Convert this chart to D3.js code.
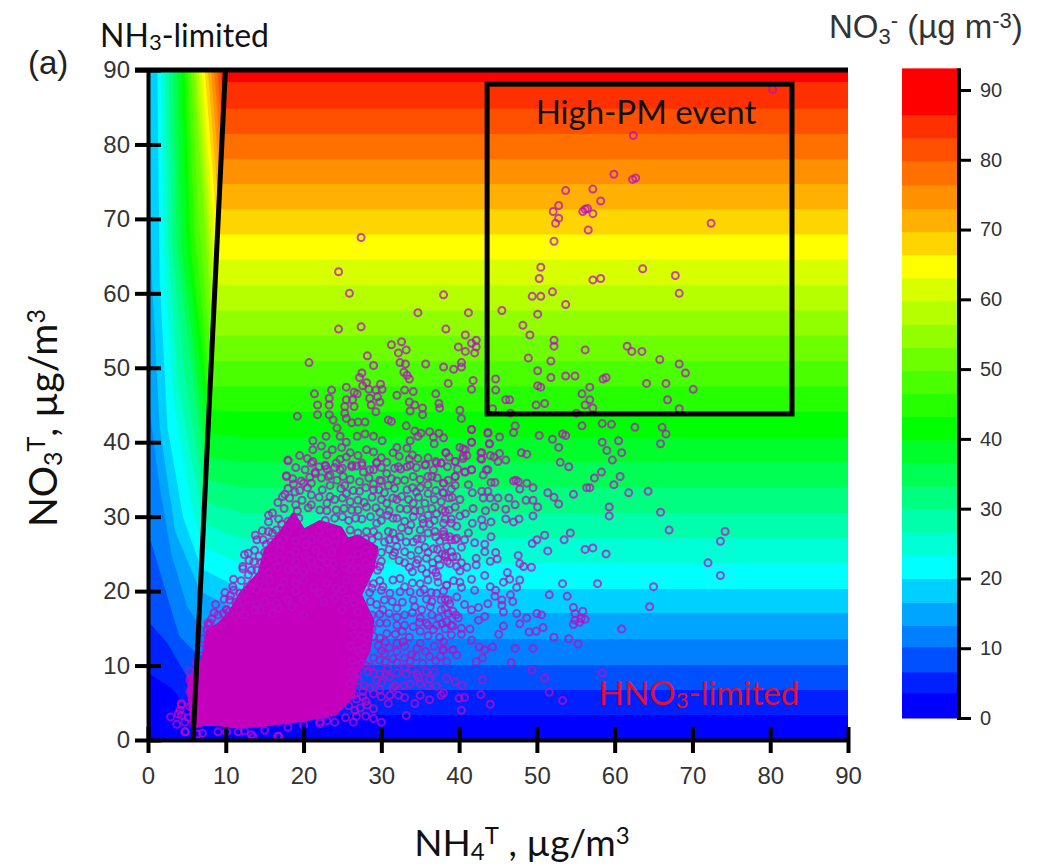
<!DOCTYPE html>
<html>
<head>
<meta charset="utf-8">
<script src="https://cdnjs.cloudflare.com/ajax/libs/d3/7.8.5/d3.min.js"></script>
<style>
	html, body { margin: 0; padding: 0; background: #fff; }
	svg { display: block; }
	.tick text { font-family: "Liberation Sans", sans-serif; fill: #333; }
</style>
</head>
<body>
<svg id="chart" width="1056" height="866"></svg>
<script>
// Band edges of the main plot and of the colour bar
const plotLevels = [3.36,6.72,10.08,13.58,17.05,20.3,23.7,27.1,30.5,33.9,37.3,40.7,44.1,47.5,50.9,54.3,57.7,61.1,64.5,67.9,71.3,74.7,78,81.4,84.8,88.4];
const barLevels = [3.6,6.6,10.2,13.3,16.6,20,23.3,26.6,29.9,33.2,36.5,39.8,43.2,46.5,49.8,53.1,56.4,59.8,63.1,66.4,69.7,73,76.4,79.8,83.1,86.4];
const bandColors = ["#0000ff","#0020ff","#0050ff","#0080ff","#00a5ff","#00d0ff","#00ffff","#00ffd5","#00ffaa","#00ff80","#00ff55","#00ff2a","#00ff00","#25ff00","#49ff00","#6dff00","#92ff00","#b6ff00","#d8ff00","#ffff00","#ffd500","#ffb000","#ff9000","#ff7000","#ff5000","#ff3000","#ff0000"];

// Contours of the NH3-limited wedge, one per band edge, ending on the black line
const wedgeContours = [
	[[0,9],[3,7],[5,4.5],[5.9,3.8]],
	[[0,16],[2.5,13],[5,8.5],[6.1,7.5]],
	[[0,28],[2,21],[4,14],[6.3,11.5]],
	[[0,46],[1.5,34],[3,25],[5,18],[6.5,15.5]],
	[[0,90],[0.5,62],[1.5,42],[3.5,28],[6.7,20]],
	[[1.2,90],[1.5,62],[2.5,42],[4.5,30],[6.86,23]],
	[[1.7,90],[2,66],[3.2,46],[5.5,32],[7,26]],
	[[2.2,90],[2.6,66],[3.8,48],[7.14,29]],
	[[2.7,90],[3.1,66],[4.6,50],[7.28,32]],
	[[3.2,90],[3.7,66],[7.41,35]],
	[[3.7,90],[4.3,66],[7.55,38]],
	[[4.2,90],[5,66],[7.7,41.2]],
	[[4.7,90],[5.5,66],[7.84,44.3]],
	[[5.1,90],[6,68],[8,47.5]],
	[[5.5,90],[6.5,70],[8.15,50.9]],
	[[5.9,90],[8.3,54.3]],
	[[6.2,90],[8.46,57.7]],
	[[6.5,90],[8.62,61.1]],
	[[6.9,90],[8.77,64.5]],
	[[7.3,90],[8.93,67.9]],
	[[7.7,90],[9.09,71.3]],
	[[8.1,90],[9.24,74.7]],
	[[8.5,90],[9.4,78]],
	[[8.9,90],[9.55,81.4]],
	[[9.3,90],[9.71,84.8]],
	[[9.6,90],[9.88,88.4]]
];

const limitLine = [[5.8,0],[9.95,90]];
const eventBox = {x0: 43.6, x1: 82.8, y0: 43.8, y1: 88.1};

// Outline of the part of the cloud where rings merge into solid colour
const denseCloud = [[5.8,1.8],[5.4,6],[5.4,8.2],[7.2,11],[7.7,14.5],[9.2,15.5],[10.7,17.2],[12,19.6],[14.4,22.4],[15.2,25.5],[17,27.6],[18.7,30.2],[20,28],[22.1,29.2],[24.7,28.4],[25.6,26.8],[27,27.3],[29.3,25.8],[28.8,23],[27.2,19.5],[28.8,16],[28.3,12],[26.8,9],[26.3,6],[24,3.6],[20,2.8],[14,2],[11,1.9],[9,2.2],[7,2.2]];

// [NH4T, NO3T] of the rings that can be told apart
const pointsEvent = [[80.3,87.4],[62.4,81.2],[59.9,76],[62.3,75.3],[62.7,75.5],[53.7,73.8],[57.2,74],[58.2,72.4],[52.8,71.8],[52.1,71],[52.8,70.1],[52.4,69.4],[55.9,71],[56.2,71.3],[56.5,71.4],[57.2,70.7],[56.6,68.5],[52.2,67],[72.4,69.4],[50.5,63.5],[50.3,62],[63.6,63.3],[67.8,62.4],[57.2,61.8],[58.2,62],[68.3,60],[52,60.2],[49.4,59.6],[50.5,59.6],[53.7,58.5],[45.5,57.7],[50.1,57.2],[48.2,55.7],[49.1,54.4],[52.2,53.7],[52.2,52.9],[61.6,52.9],[62.2,52.2],[63.5,52.2],[56.2,52.4],[48.9,51.3],[51.8,50.9],[65.8,51.1],[68.3,50.5],[69.1,49.3],[50.1,49.6],[51.8,48.7],[53.7,48.9],[54.9,48.9],[58.5,48.5],[58.9,48.7],[44.7,48.5],[50.1,47.6],[50.5,47.4],[56.8,47.4],[64.1,47.9],[66.6,47.9],[70.1,47.1],[44.7,47],[55.8,46.5],[46,45.7],[46.5,45.7],[66.8,45.7],[56.8,45.7],[49.9,45],[51,45.2],[56.2,45],[57.2,44.6],[68.3,44.5],[44.3,44.5],[55.1,43.9],[46.6,43.9]];

const pointsUpper = [[27.4,67.5],[24.5,62.9],[25.9,60],[38,59.8],[34.7,57.4],[41.2,57.4],[24.5,55.2],[27.4,55.5],[38.3,55.2],[40.8,54.4],[32.6,53.5],[31.3,53.1],[33.2,52.4],[32.2,52],[42.2,53.7],[41.6,53.3],[42.2,52.8],[39.9,52.8],[40.8,52.2],[42,52],[28.2,51.6],[29,50.3],[20.7,50.7],[32.4,50.7],[33.1,50.5],[35.7,50.5],[38,50.1],[39.3,49.8],[40.3,50.1],[40.3,50.7],[32.9,49.4],[33.3,49],[33.6,48.5],[27.5,49.3],[27.2,48.7],[28.1,48],[27.6,47.6],[29.9,47.8],[30.1,47.1],[38.6,47.9],[41.8,48.3],[41.6,47.1],[21.4,46.5],[23.6,47],[25.5,47.4],[26.5,46.7],[26.9,46.5],[28.4,47.1],[29.3,47],[32,46.3],[33,47],[34.1,46.8],[37,46.5],[29.5,46.1],[23.3,45.9],[25.5,45.7],[26.3,45.7],[28.5,45.9],[29.8,45.4],[21.8,45],[23.3,45],[25.3,44.8],[26.5,44.8],[28.7,45],[33.6,45.4],[34.3,45],[35.3,44.6],[37.4,45.2],[37.5,44.6],[40.1,44.3],[21.8,43.7],[19.2,43.5],[23.3,43.7],[25.3,43.9],[29.3,44.1],[33.7,44.2],[35.3,43.7],[40.3,43.2],[23.8,43],[25.5,43.2],[26.2,42.6],[27,42.7],[27.9,42.7],[30.9,43],[31.3,42.8],[24.3,41.9],[33.2,42.2],[41.6,41.7],[43.7,41.2],[22.9,40.8],[24.7,40.8],[26.9,40.8],[27.9,41.1],[29,40.8],[34.3,41.5],[35.1,41.2],[36.2,41.4],[37.4,41.2],[34.7,40.8],[36.7,40.7],[38,40.6],[30.1,40.2],[21.2,40.2],[33.7,40.2],[41.6,40],[36.8,39.8],[33.3,39.2],[32,39.3],[40.1,39.3],[40.8,39],[43.9,39.8],[25.5,40],[24.9,39.3],[22.3,39.5],[21.2,39],[23.7,39],[26,38.6],[28.1,39],[29,38.7],[31.5,38.6],[38.3,38.6],[42.9,38.6],[40.5,37.8],[44.5,38],[18,37.6],[24.7,37.7],[33.6,37.7],[34.7,37.8],[37,37.4],[21.2,37.4],[42.9,37.7],[29.4,37.3],[30.7,37.3],[27.5,37.2],[22.8,36.8],[24,36.6],[26.2,36.7],[33.3,36.7],[35.7,37],[37.7,37.2],[39.5,37.4],[43.5,36.3],[41.6,36.3],[40.8,36],[17.8,35.4],[21.5,36],[27.7,36],[28.5,36.3],[31.7,36.5],[39.5,35.4],[36.5,35.4],[25.1,35.4],[23.4,35.6]];

const pointsRight = [[41.6,41.7],[43.7,41.3],[43.9,39.8],[47,41.3],[47.2,42.2],[50.3,40.9],[52,40.4],[53.3,41.1],[53.7,40.9],[52.8,39.3],[55.8,42.2],[58.4,42.5],[59.6,42.4],[62.6,42],[66.1,42],[66.6,41.1],[65.9,39.8],[58.4,40],[60.5,40.2],[59,38.9],[60.9,38.6],[59.7,37.6],[53,37.3],[54.1,36.7],[48,38.6],[48.7,38.4],[45.2,40.7],[41.6,40],[38.3,38.6],[40.5,39.1],[40.5,38.1],[39.5,37.4],[42.8,38.6],[42.8,37.8],[44,38.2],[45.2,38.5],[45,37.4],[46,37.6],[37.7,37.2],[58.3,36],[57.4,35.2],[60.7,35.4],[59.9,34.3],[56.4,33.9],[56.8,33.9],[54.7,33],[61.8,33.2],[64.3,33.4],[51.4,33.2],[52.2,32.6],[52.8,31.7],[59.3,31.3],[59.3,30.1],[65.9,30.6],[67,28.2],[74.2,28],[73.6,26.7],[72,23.8],[73.6,22.1],[65,20.6],[64.5,17.9],[60.9,14.9],[57.8,21],[53.3,21],[58.9,25],[57.2,25.8],[56.2,25.6],[54.3,27.8],[53.5,26.9],[51.4,25.4],[51,27.5],[50,26.9],[49.4,26.4],[50.1,31.3],[49.5,30.1],[49.5,33.9],[48.7,34.5],[49.5,32.2],[48.6,32.2],[47.3,34.9],[47.8,33.7],[47.6,34.7],[47,34.8],[47.2,31.6],[46,31],[46,29.7],[47.7,29.7],[47,29.3],[46.4,32.5],[44.6,34.6],[44.1,34.6],[41.2,34.3],[43.1,35.6],[43.7,36.3],[41.6,36.3],[40.7,36],[39.5,35.4],[38,34.5],[41.7,33.2],[42.9,33.4],[43.7,33.4],[43.1,32.5],[44,32.5],[45,32.5],[40.1,32.3],[39.1,32.6],[37.9,33.2],[41.8,31.1],[43.4,30.8],[44.6,31.3],[40.1,30.1],[40.8,30.4],[38.2,29.7],[44.1,29.3],[42.9,29.6],[41.7,29.1],[39,29.1],[39.7,28.7],[43.1,28.7],[44.1,27.3],[41.2,27.8],[38.2,27.3],[39.5,26.9],[40.7,26.9],[42,26.5],[43.3,26.3],[43.3,25.3],[40.3,25.9],[38.2,24.9],[39.2,24.6],[42.2,24.4],[44.7,25.2],[44.9,24.3],[44,24],[47.6,24.8],[47.8,23.7],[49.3,23.2],[48.3,23.3],[40.3,23.8],[38.8,23.7],[42.2,23.5],[41,23.2],[40.1,22.7],[46.2,22.5],[43.3,22.1],[41.6,21.6],[47.8,21.5],[46.5,21.6],[45.7,21.2],[40.1,21.2],[38.4,20.8],[40.3,20.5],[42,20.1],[44,20.6],[47.4,20.5],[44.7,20.1],[44.6,19.3],[46.6,19.5],[51.6,19.5],[53.9,19.3],[38.6,18.8],[45.5,18.8],[46.9,18.6],[40.7,18.2],[42.5,17.8],[43.7,18.3],[45.5,18.1],[41.6,17.5],[39.2,17.3],[38.2,17.7],[45.7,17.2],[47.4,17],[54.7,17.8],[55.9,17.3],[50,17],[50.6,16.8],[48.7,16.4],[43.3,16.6],[42.5,16.1],[39.9,16.4],[38.4,15.9],[54.9,17],[54.9,16.1],[55.7,16.3],[56.2,16.2],[55.5,15.8],[54.7,15.5],[47.8,15.6],[45.7,15.3],[50.8,15.1],[41.4,14.9],[40.3,15],[39.2,15.3],[49.9,14.6],[49,14.5],[45.1,14.2],[40.3,14.2],[52.2,13.8],[54.1,13.6],[55.3,12.9],[41.6,13.4],[49.5,12.3],[47.2,12.3],[44.3,12.5],[42.6,12.5],[43.3,12.1],[39.2,12.1],[37.9,12.1],[39.7,11.4],[43,11],[42.2,10.5],[46.7,10.4],[38.4,10.5],[49.4,9.4],[58.4,9],[51,8.3],[43,8.1],[38.4,8.3],[39.5,7.8],[40.4,7.3],[51.6,6.4],[42.8,6.1],[40.7,5.7],[40,5.6],[53.3,5.3],[44,4.8],[40.3,4],[37.7,6]];

const pointsMiddle = [[18,37.5],[17.8,35.5],[17.6,33],[16.7,31.9],[15.5,30.2],[15.5,29.3],[12.4,24.9],[12.2,23],[13.6,23.9],[10.9,20.6],[9.8,18.9],[10.1,17.5],[7.7,15.7],[11.8,17.6],[11.8,19.7],[12.9,22.2],[14.4,21.7],[15.5,28],[14.8,26.9],[16.5,28.2],[18.9,33.3],[20,34.5],[21,34.5],[21.5,35.8],[21,37.2],[22.8,36.9],[24.2,37.2],[23.2,35.4],[24.7,36.3],[26.2,36.9],[27.5,36.9],[29.4,37.2],[30.7,35.8],[29.8,34.9],[32.2,36.7],[33.7,36.9],[35.6,36.9],[37.1,37.2],[34.1,35.4],[36,35.4],[38,34.5],[39.5,34.2],[34.5,33.3],[36,33.1],[32.6,32.7],[30.9,34.2],[29,33.6],[27.2,34.7],[25.5,33.1],[23.4,32.7],[21,32.9],[22.1,30.9],[24.2,30.9],[26.2,30.9],[28.1,31.3],[30.7,31.8],[32.4,31.1],[34.1,31.8],[35.6,31.8],[37.7,32],[39.5,31.3],[37.1,30.4],[38.2,30.7],[38,29.1],[35.4,29.1],[34.1,30],[31.5,29.8],[29.4,29.1],[28.1,28],[30.9,28],[32.4,27.3],[35,28.2],[36.9,28],[38.8,27.3],[39.7,27.1],[38.4,26],[36.7,25.7],[34.1,26.6],[32,26],[31.5,24.8],[35.8,24.4],[38.2,24.6],[39.7,24.6],[37.5,23.5],[39.7,23.3],[34.5,23.7],[29.8,23.3],[35.8,22.4],[35,21],[38.4,20.8],[32.4,21.7],[31.5,21.5],[30.2,20.6],[29,21],[31.1,19.7],[33.7,19.9],[34.1,18.8],[37.1,19.7],[38.8,18.3],[39.7,19.2],[35.2,17.5],[37.7,17.5],[35.8,15.7],[37.1,15.4],[32,17.7],[30.2,17.5],[29.8,15.7],[32,15.4],[34.1,15.2],[29,13.9],[30.7,14.3],[32.8,13.2],[35,13],[38,13.2],[36.2,11.2],[38,12.1],[39.2,12.1],[34.5,11.2],[31.5,10.9],[33.2,8.9],[29.8,8.9],[35,7.6],[37.1,7.2],[38,6.3],[36.2,5.4],[34.3,4.9],[32.2,6],[31.1,6],[30,5.8],[30.9,4.9],[29,4.2],[29,2.9],[30,2.4],[33.2,3.3],[26.6,4],[26.4,2.4],[24,2.4],[22.1,2.2],[16.7,0.5],[13.5,0.4],[11.6,1.1],[27,12],[28,10],[27,8],[28.5,7],[26.8,5.5],[29,11],[30,12],[27.5,14],[29,9],[31,8.5],[28,5.2],[30.5,10.5],[33,11],[32,13],[34,9.5],[26.5,15.5],[28,15.5]];

const pointsLeft = [[4.75,1.1],[4.75,2.4],[4.3,3.3],[4.3,4.7],[5.4,4.5],[2.9,3.1],[3.9,3.5],[3.7,2.1],[4.3,4.9],[4.1,4],[4.8,1.1],[5.4,8.1],[5.4,6.5],[13.3,0.7],[16.8,0.5],[10.1,1.1],[7.8,15.4],[7.6,14.8],[10.1,17.5],[11.8,17.5],[13.8,17.5],[16.8,17.7],[22.1,2.5]];

// Rings packed around the solid part of the cloud, placed by eye
const pointsPacked = [
	[19.5,38.2],[20.5,37.8],[23,38.3],[25.5,38],[27,38.2],[30,37.9],[32.3,38.1],[34,38.3],[36,37.9],[38.7,38],[41,38.2],
	[19,36.6],[20.2,36.3],[22,36.7],[23,36.4],[25,36.5],[26.8,36.8],[29,36.3],[30,36.6],[32.5,36.4],[34.5,36.6],[36.7,36.3],[38.5,36.7],[39.8,36.4],
	[18.6,35.1],[19.7,34.8],[22.3,35.2],[24.3,34.9],[26,35],[28.4,35.2],[30,34.8],[31.3,35.1],[33,34.9],[35,35],[37.2,35.2],[38.6,34.9],
	[18,33.8],[19.5,33.5],[20.5,33.9],[22.4,33.6],[24.8,33.8],[26.4,33.5],[28,33.9],[29.7,33.6],[31.7,33.8],[33.3,33.6],[35,33.9],[37,33.5],[39,33.7],
	[18.2,32.5],[19.8,32.2],[22,32.6],[24,32.3],[25,32.5],[27,32.2],[28.8,32.6],[30,32.3],[31.5,32.5],[33.5,32.3],[34.8,32.6],[36.8,32.3],[38.7,32.5],
	[17.5,31.1],[19.2,30.8],[20.6,31.2],[23,30.8],[25.2,31.1],[27,30.9],[29.3,31.2],[31,30.8],[33.3,31],[35,30.8],[36.5,31.1],[38.7,30.9],
	[16.8,29.7],[18,29.4],[19.4,29.8],[22.8,29.5],[24,29.8],[25.8,29.5],[27.5,29.7],[30,29.5],[32,29.8],[33,29.4],[35.3,29.7],[36.8,29.5],[39,29.7],
	[14.7,28.1],[16,27.8],[18,28.2],[20,27.8],[22,28.1],[24,27.9],[26,28.2],[27,27.8],[29,28],[31.5,27.8],[33.5,28.1],[36,27.8],[38,28],
	[14,26.9],[15.8,26.6],[17.4,27],[19,26.7],[21,26.9],[23,26.6],[25,27],[27,26.7],[28.8,26.9],[30.4,26.6],[31.8,26.9],[33.2,26.6],[35.2,27],[37.5,26.7],[39,26.9],
	[13.7,25.5],[15,25.2],[17,25.6],[19,25.3],[21.6,25.5],[23.7,25.2],[28,25.5],[30,25.2],[31,25.6],[33,25.3],[34.8,25.5],[36,25.2],[37.2,25.6],[39,25.3],
	[13,24.1],[14.6,23.8],[17,24.2],[19,23.9],[21,24.1],[23,23.8],[26,24.2],[28,23.8],[30,24],[32.3,24.1],[33,23.8],[34.7,24.2],[36.6,23.8],[38.5,24],
	[13.3,22.8],[15.5,22.5],[18,22.9],[20,22.6],[22,22.8],[24,22.5],[26,22.9],[28,22.6],[29.5,22.8],[34,22.6],[36.6,22.9],[37,22.5],
	[12,21.4],[13.4,21.1],[15.6,21.5],[17.5,21.2],[20,21.4],[23,21.1],[25.5,21.5],[28,21.2],[29.8,21.4],[34,21.1],[36,21.5],[37.3,21.2],[39.3,21.4],
	[11,20.1],[12.4,19.8],[14,20.2],[16,19.8],[19,20],[22,19.8],[25,20.2],[28.5,19.8],[30,20.1],[32.4,19.9],[35.5,20.2],[36.4,19.8],[38,20],
	[10.5,18.8],[11.3,18.5],[13,18.9],[15,18.6],[18,18.8],[22.6,18.5],[25.5,18.9],[28.6,18.6],[30.4,18.8],[32.7,18.5],[35.8,18.9],[36.5,18.6],[37.7,18.8],
	[8.5,17.1],[9,16.8],[10.4,17.2],[12.5,16.8],[16,17],[20,16.8],[27,17.2],[28.8,16.8],[31,17],[33,16.8],[34,17.1],[36.5,16.8],[38.6,17],
	[8,15.7],[9.5,15.4],[30.7,15.7],[33,15.4],[34.9,15.8],[36,15.4],[37.8,15.6],[39,15.4],
	[26.5,14.1],[28.3,13.8],[31.8,14.2],[33.6,13.8],[36,14],[37.5,13.8],[39,14.1],
	[26,12.6],[27.8,12.3],[29.6,12.7],[31,12.4],[33,12.6],[34.6,12.3],[36.8,12.6],
	[26.3,10.6],[27.5,10.3],[29.8,10.7],[32,10.4],[33.7,10.6],[35.3,10.3],[37,10.6],
	[26,9.1],[27,8.8],[28.3,9.2],[30.6,8.8],[32,9],[34.6,8.8],[36.8,9.1],
	[26,7.6],[27.8,7.3],[30,7.7],[31.8,7.3],[33.7,7.5],[36,7.3],
	[26.5,6.1],[27.6,5.8],[29,6.2],[25.8,4.6],[27.3,4.3],[28.2,4.7]
];

// Second pass over the same area, in the gaps the first pass left
const pointsFill = [
	[18.7,34.4],[20.8,35.3],[23.4,34.2],[25.3,34.2],[27.2,33.4],[29,34.4],[30.4,33.2],[32,34.8],[34,33.9],[36,34.3],[38,33.2],
	[17.3,32.7],[19,31.6],[21,31.6],[23,31.8],[26,32],[27.8,31.9],[29.8,30.6],[32,32.3],[34.3,30.8],[36,30.2],[37.8,30.9],
	[16,30.5],[17.2,29],[18.7,28.9],[23.2,28.6],[25,30],[26.7,29.8],[28.6,30],[30.8,30.2],[33.8,28.9],[36.2,29],[38,27.6],
	[13.8,27.5],[15.2,26.3],[17,26.2],[20.3,26.2],[22.3,26.9],[24,26.2],[28,27],[29.6,27.4],[31,26.9],[32.6,28.5],[34.6,27],[37,27.3],
	[12.9,25.1],[14.3,24.7],[16,24.6],[18.2,24.8],[20.2,24.7],[22.3,24.6],[27,25],[29,24.8],[31.7,25.2],[33.8,24.8],[35.6,25.9],[37.8,25],
	[12.2,23.3],[14,22.8],[16.6,23.2],[19,22.8],[21.2,23.2],[23.8,23.7],[25.4,23.2],[27,23],[29,23.6],[33.6,23.2],[35.2,23],[37.3,24.3],
	[11,21.6],[12.8,20.6],[15,20.6],[17,20.4],[19,21.1],[21.3,20.5],[24.2,20.4],[26.6,20.7],[28.8,20.4],[33,20.6],[35,19.8],[37.2,22],
	[9.9,19.8],[10.6,19.4],[12.2,18.6],[14,18.2],[16.5,18.4],[20,18.9],[24,19],[26.6,18.4],[29.4,18.2],[31.4,18.6],[34.3,17.9],[36.3,17.9],[38.2,18.9],
	[8.7,18.2],[9.7,17],[11.3,16.7],[14.4,17.5],[18.5,17.9],[25,17.5],[29.8,16.9],[32,16.5],[35,16.4],[37.4,16.4],[39.6,16.8],
	[8.2,16.3],[28.8,15],[30.5,13.2],[32.7,14.6],[35,14.6],[36.7,14.8],[38.2,14.9],
	[29.8,13.7],[27.4,11.6],[30.4,11.6],[32,11.9],[33.9,11.5],[35.7,11.9],[37.6,11.2],
	[26.8,10],[28.6,9.8],[30.8,9.6],[33,9.7],[35.8,9.2],[36.2,8.2],[26.6,8.4],[29.4,8],[32.9,7.3],[34.8,8.4],
	[27.6,6.5],[29.8,6.8],[31.5,7],[33,5.7],[35,6],[26.8,3.2],[28,3.2],[25.4,3],[23,2.6],[20,2],[18,1.7],[15,1.3],[12.4,1.2],[9,1.1],[7,0.9],
	[6.3,0.8],[5.2,3],[5.4,9.2],[6.2,10.5],[6.8,12.2],[7,13.6]
];

const axisTicks = [0,10,20,30,40,50,60,70,80,90];
const barTicks = [0,10,20,30,40,50,60,70,80,90];

const svg = d3.select("#chart");

const xScale = d3.scaleLinear().domain([0, 90]).range([148, 848]);
const yScale = d3.scaleLinear().domain([0, 90]).range([740, 70]);
const barScale = d3.scaleLinear().domain([0, 90]).range([718, 90]);

const toPath = d3.line().x(d => xScale(d[0])).y(d => yScale(d[1]));

// Background: paint each band edge upwards, lowest first
svg.append("rect")
	.attr("x", xScale(0))
	.attr("y", yScale(90))
	.attr("width", xScale(90) - xScale(0))
	.attr("height", yScale(0) - yScale(90))
	.attr("fill", bandColors[0]);

plotLevels.forEach((level, i) => {
	const contour = wedgeContours[i];
	const outline = contour.concat([[12, level], [90, level], [90, 90]]);
	if (contour[0][0] === 0 && contour[0][1] < 90) outline.push([0, 90]);
	svg.append("path")
		.attr("d", toPath(outline) + "Z")
		.attr("fill", bandColors[i + 1]);
});

// Point cloud
svg.append("path")
	.attr("d", toPath(denseCloud) + "Z")
	.attr("fill", "#c400bd")
	.attr("stroke", "#c400bd")
	.attr("stroke-width", 5)
	.attr("stroke-linejoin", "round");

const allPoints = pointsEvent.concat(pointsUpper, pointsRight, pointsMiddle, pointsLeft, pointsPacked, pointsFill);
svg.append("g").selectAll("circle")
	.data(allPoints)
	.enter()
	.append("circle")
	.attr("cx", d => xScale(d[0]))
	.attr("cy", d => yScale(d[1]))
	.attr("r", 3.5)
	.attr("fill", "none")
	.attr("stroke", "#bc0cc4")
	.attr("stroke-opacity", 0.75)
	.attr("stroke-width", 2);

// Limit line and event box
svg.append("path")
	.attr("d", toPath(limitLine))
	.attr("stroke", "#000")
	.attr("stroke-width", 5)
	.attr("fill", "none");

svg.append("rect")
	.attr("x", xScale(eventBox.x0))
	.attr("y", yScale(eventBox.y1))
	.attr("width", xScale(eventBox.x1) - xScale(eventBox.x0))
	.attr("height", yScale(eventBox.y0) - yScale(eventBox.y1))
	.attr("fill", "none")
	.attr("stroke", "#000")
	.attr("stroke-width", 5);

// Axes
const xAxis = svg.append("g")
	.attr("transform", `translate(0, ${yScale(0)})`)
	.call(d3.axisBottom(xScale).tickValues(axisTicks).tickSize(13).tickPadding(14).tickSizeOuter(0));
xAxis.selectAll(".tick line").attr("y1", -13);

const yAxis = svg.append("g")
	.attr("transform", `translate(${xScale(0)}, 0)`)
	.call(d3.axisLeft(yScale).tickValues(axisTicks).tickSize(13).tickPadding(5).tickSizeOuter(0));
yAxis.selectAll(".tick line").attr("x1", 13);

[xAxis, yAxis].forEach(axis => {
	axis.selectAll(".domain").attr("stroke", "#000").attr("stroke-width", 4);
	axis.selectAll(".tick line").attr("stroke", "#000").attr("stroke-width", 4);
	axis.selectAll(".tick text").attr("font-size", 24);
});

// Closing line along the top of the plot
svg.append("line")
	.attr("x1", 135)
	.attr("x2", xScale(90))
	.attr("y1", yScale(90))
	.attr("y2", yScale(90))
	.attr("stroke", "#000")
	.attr("stroke-width", 5);

// Colour bar
const barEdges = [0].concat(barLevels, [93.1]);
svg.append("g").selectAll("rect")
	.data(bandColors)
	.enter()
	.append("rect")
	.attr("x", 902)
	.attr("width", 56)
	.attr("y", (d, i) => barScale(barEdges[i + 1]))
	.attr("height", (d, i) => barScale(barEdges[i]) - barScale(barEdges[i + 1]) + 0.5)
	.attr("fill", d => d);

const barAxis = svg.append("g")
	.attr("transform", "translate(959, 0)")
	.call(d3.axisRight(barScale).tickValues(barTicks).tickSize(12).tickPadding(9).tickSizeOuter(0));
barAxis.select(".domain").attr("d", `M0,${barScale(93.1)}V${barScale(0) + 2}`).attr("stroke", "#000").attr("stroke-width", 4);
barAxis.selectAll(".tick line").attr("stroke", "#000").attr("stroke-width", 3);
barAxis.selectAll(".tick text").attr("font-size", 20);

// Text with sub- and superscripts, given as [text, shift, size] runs
function addText(x, y, runs, size, font, fill, anchor, rotate) {
	const text = svg.append("text")
		.attr("x", x)
		.attr("y", y)
		.attr("font-size", size)
		.attr("font-family", font)
		.attr("fill", fill)
		.attr("text-anchor", anchor);
	if (rotate) text.attr("transform", `rotate(${rotate}, ${x}, ${y})`);
	let last = 0;
	runs.forEach(run => {
		const shift = run[1] || 0;
		text.append("tspan")
			.attr("dy", shift - last)
			.attr("font-size", run[2] || size)
			.text(run[0]);
		last = shift;
	});
}

const calibri = "Lato, sans-serif";
const arial = "'Liberation Sans', sans-serif";

addText(28, 74, [["(a)"]], 33, arial, "#222", "start");
addText(100, 47, [["NH"], ["3", 3, 22], ["-limited", 0]], 32, calibri, "#111", "start");
addText(646, 124, [["High-PM event"]], 33, calibri, "#111", "middle");
addText(699, 705, [["HNO"], ["3", 3, 22], ["-limited", 0]], 33, calibri, "#e3102f", "middle");
addText(522, 856, [["NH"], ["4", 4, 24], ["T", -12, 24], [" , µg/m", 0], ["3", -12, 24]], 37, calibri, "#111", "middle");
addText(57, 418, [["NO"], ["3", 5, 25], ["T", -12, 25], [", µg/m", 0], ["3", -12, 25]], 39, calibri, "#111", "middle", -90);
addText(829, 38, [["NO"], ["3", 6, 22], ["-", -10, 22], [" (µg m", 0], ["-3", -10, 22], [")", 0]], 33, arial, "#333", "start");
</script>
</body>
</html>
